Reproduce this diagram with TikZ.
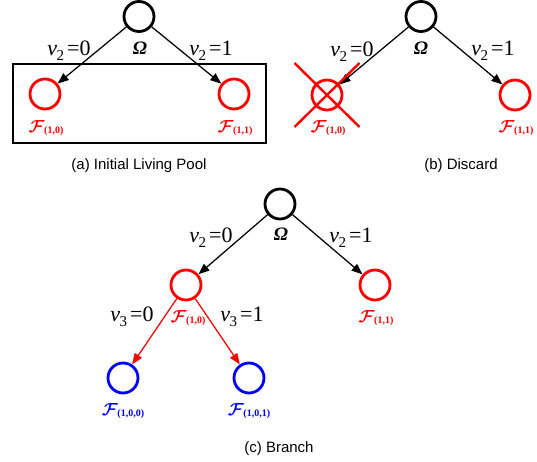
\RequirePackage{fix-cm}
\documentclass[tikz,border=0pt]{standalone}
\usepackage{fontspec}
\setmainfont{Liberation Serif}
\setsansfont{Liberation Sans}
\usetikzlibrary{arrows.meta}

% branch label v_k = b
\newcommand\brlab[2]{\textit{v}\hspace{-0.5pt}\raisebox{-5pt}{\fontsize{15}{15}\selectfont #1}\hspace{3pt}=#2}
% root label
\newcommand\rootlab{\textbf{\textit{Ω}}}
% subproblem label F_(...)
\newcommand\fset[1]{{\boldmath$\mathcal{F}$}\hspace{-0.5pt}\raisebox{-1.5pt}{\fontsize{10}{10}\selectfont\bfseries(#1)}}

\tikzset{
  nd/.style={circle, draw, line width=2.8pt, minimum size=30pt, inner sep=0pt},
  blk/.style={nd, draw=black},
  rd/.style={nd, draw=red},
  bl/.style={nd, draw=blue},
  edge/.style={-{Triangle[length=11pt,width=8.5pt]}, line width=1.25pt},
  brl/.style={anchor=base, inner sep=0pt, font=\fontsize{22}{22}\selectfont},
  rl/.style={inner sep=0pt, font=\fontsize{19}{19}\selectfont},
  fl/.style={inner sep=0pt, font=\fontsize{17.5}{17.5}\selectfont},
  captxt/.style={inner sep=0pt, font=\sffamily\fontsize{15}{15}\selectfont},
}

\begin{document}
\begin{tikzpicture}[x=1pt, y=-1pt]
\path[use as bounding box] (0,0) rectangle (537,462);

% ---------- (a) initial living pool ----------
\node[blk] (omA) at (139,16.5) {};
\node[rd] (la) at (45,94) {};
\node[rd] (ra) at (234,94) {};
\node[rl] (omAt) at (140,48) {\rootlab};
\node[fl, text=red] (laT) at (46,128) {\fset{1,0}};
\node[fl, text=red] (raT) at (235,128) {\fset{1,1}};
\draw[edge] (omA) -- (la);
\draw[edge] (omA) -- (ra);
\node[brl] (a0) at (69,56) {\brlab{2}{0}};
\node[brl] (a1) at (211,56) {\brlab{2}{1}};
\draw[line width=2pt] (13,64) rectangle (266,143);
\node[captxt] (capA) at (139,166) {(a) Initial Living Pool};

% ---------- (b) discard ----------
\node[blk] (omB) at (421,16.5) {};
\node[rd] (lb) at (327,95) {};
\node[rd] (rb) at (515,95) {};
\node[rl] (omBt) at (421,48) {\rootlab};
\node[fl, text=red] (lbT) at (328,128) {\fset{1,0}};
\node[fl, text=red] (rbT) at (516,128) {\fset{1,1}};
\draw[edge] (omB) -- (lb);
\draw[edge] (omB) -- (rb);
\node[brl] (b0) at (352,57) {\brlab{2}{0}};
\node[brl] (b1) at (493,56) {\brlab{2}{1}};
\draw[red, line width=2.4pt] ([shift={(-32.5,-32)}]lb.center) -- ([shift={(32.5,32)}]lb.center);
\draw[red, line width=2.4pt] ([shift={(32.5,-32)}]lb.center) -- ([shift={(-32.5,32)}]lb.center);
\node[captxt] (capB) at (461,166) {(b) Discard};

% ---------- (c) branch ----------
\node[blk] (omC) at (280,204) {};
\node[rd] (lc) at (186,285) {};
\node[rd] (rc) at (375,285) {};
\node[bl] (c0) at (123,378) {};
\node[bl] (c1) at (249,378) {};
\node[rl] (omCt) at (281,234) {\rootlab};
\node[fl, text=red] (lcT) at (188,318) {\fset{1,0}};
\node[fl, text=red] (rcT) at (376,318) {\fset{1,1}};
\node[fl, text=blue] (c0T) at (123,411) {\fset{1,0,0}};
\node[fl, text=blue] (c1T) at (249,411) {\fset{1,0,1}};
\draw[edge] (omC) -- (lc);
\draw[edge] (omC) -- (rc);
\draw[edge, red] (lc) -- (c0);
\draw[edge, red] (lc) -- (c1);
\node[brl] (cv0) at (211,242) {\brlab{2}{0}};
\node[brl] (cv1) at (351,242) {\brlab{2}{1}};
\node[brl] (cw0) at (132,321) {\brlab{3}{0}};
\node[brl] (cw1) at (242,321) {\brlab{3}{1}};
\node[captxt] (capC) at (279,449) {(c) Branch};
\end{tikzpicture}
\end{document}
